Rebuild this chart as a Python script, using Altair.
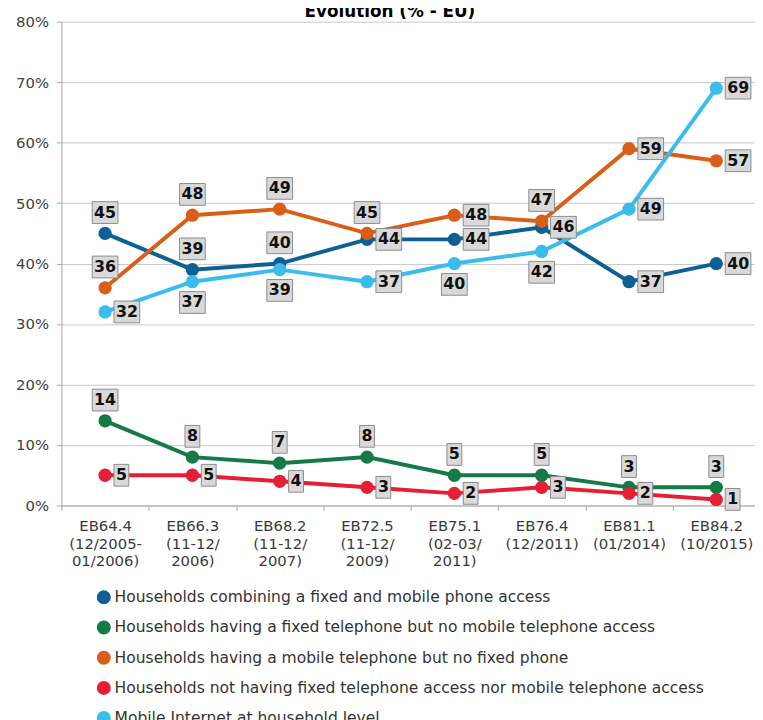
import altair as alt
import pandas as pd

TITLE = "Evolution (% - EU)"

CATEGORIES = [
    "EB64.4|(12/2005-|01/2006)",
    "EB66.3|(11-12/|2006)",
    "EB68.2|(11-12/|2007)",
    "EB72.5|(11-12/|2009)",
    "EB75.1|(02-03/|2011)",
    "EB76.4|(12/2011)",
    "EB81.1|(01/2014)",
    "EB84.2|(10/2015)",
]

SERIES = [
    "Households combining a fixed and mobile phone access",
    "Households having a fixed telephone but no mobile telephone access",
    "Households having a mobile telephone but no fixed phone",
    "Households not having fixed telephone access nor mobile telephone access",
    "Mobile Internet at household level",
]
COLORS = ["#0d6094", "#157a45", "#d95f18", "#e41f36", "#3bbcee"]

FIXED_AND_MOBILE = [45, 39, 40, 44, 44, 46, 37, 40]
FIXED_ONLY = [14, 8, 7, 8, 5, 5, 3, 3]
MOBILE_ONLY = [36, 48, 49, 45, 48, 47, 59, 57]
NO_PHONE = [5, 5, 4, 3, 2, 3, 2, 1]
MOBILE_INTERNET = [32, 37, 39, 37, 40, 42, 49, 69]
VALUES = [FIXED_AND_MOBILE, FIXED_ONLY, MOBILE_ONLY, NO_PHONE, MOBILE_INTERNET]

# where each data label sits relative to its point
SIDE_FIXED_AND_MOBILE = ["above", "above", "above", "right", "right", "right", "right", "right"]
SIDE_FIXED_ONLY = ["above"] * 8
SIDE_MOBILE_ONLY = ["above", "above", "above", "above", "right", "above", "right", "right"]
SIDE_NO_PHONE = ["right"] * 8
SIDE_MOBILE_INTERNET = ["right", "below", "below", "right", "below", "below", "right", "right"]
SIDES = [SIDE_FIXED_AND_MOBILE, SIDE_FIXED_ONLY, SIDE_MOBILE_ONLY, SIDE_NO_PHONE, SIDE_MOBILE_INTERNET]


def box_path(side, label):
    w = 15 if len(label) == 1 else 26
    h = 22
    if side == "above":
        x0, y0 = -w / 2, -32
    elif side == "below":
        x0, y0 = -w / 2, 10
    else:
        x0, y0 = 9, -11
    return f"M{x0},{y0}H{x0 + w}V{y0 + h}H{x0}Z"


rows = []
for k, (s, vals, sides) in enumerate(zip(SERIES, VALUES, SIDES)):
    for c, v, sd in zip(CATEGORIES, vals, sides):
        lab = str(v)
        rows.append({"series": s, "idx": f"s{k}", "cat": c, "value": v, "side": sd,
                     "label": lab, "box": box_path(sd, lab)})
df = pd.DataFrame(rows)
IDX = [f"s{k}" for k in range(len(SERIES))]

FONT = "DejaVu Sans"

x_enc = alt.X(
    "cat:N",
    sort=CATEGORIES,
    bandPosition=0.5,
    scale=alt.Scale(type="band", range=[0, 706], paddingInner=0, paddingOuter=0),
    axis=alt.Axis(
        title=None, labelAngle=0, tickBand="extent", labelExpr="split(datum.label, '|')",
        labelFont=FONT, labelFontSize=15, labelColor="#3a3a3a", labelLineHeight=18,
        labelPadding=8, tickSize=5, tickColor="#a6a6a6", domainColor="#a6a6a6",
        grid=False, labelBaseline="top",
    ),
)
y_enc = alt.Y(
    "value:Q",
    scale=alt.Scale(domain=[0, 80], nice=False),
    axis=alt.Axis(
        title=None, values=list(range(0, 81, 10)), labelExpr="datum.value + '%'",
        labelFont=FONT, labelFontSize=15, labelColor="#404040", labelPadding=8,
        tickSize=5, tickColor="#a6a6a6", domainColor="#a6a6a6",
        grid=True, gridColor="#c8c8c8", gridWidth=1,
    ),
)

base = alt.Chart(df)

lines = base.mark_line(strokeWidth=4).encode(
    x=x_enc, y=y_enc,
    stroke=alt.Stroke("idx:N", scale=alt.Scale(domain=IDX, range=COLORS), legend=None),
    detail="idx:N",
)

points = base.mark_circle(size=180, opacity=1).encode(
    x=x_enc, y=y_enc,
    color=alt.Color(
        "series:N", scale=alt.Scale(domain=SERIES, range=COLORS),
        legend=alt.Legend(
            title=None, orient="none", legendX=35, legendY=574,
            symbolType="circle", symbolSize=200, symbolStrokeWidth=0, symbolOpacity=1,
            labelFont=FONT, labelFontSize=15.7, labelColor="#333333", labelLimit=800,
            rowPadding=13.5, labelOffset=3, padding=0, direction="vertical",
        ),
    ),
)

boxes = base.mark_point(filled=True, size=4, fill="#d9d9d9", stroke="#8c8c8c",
                        strokeWidth=1, opacity=1).encode(
    x=x_enc, y=y_enc,
    shape=alt.Shape("box:N", scale=None, legend=None),
)

text_props = dict(font=FONT, fontWeight="bold", fontSize=16, color="#111111", baseline="middle")
t_above = base.transform_filter("datum.side == 'above'").mark_text(
    align="center", dy=-21, **text_props).encode(x=x_enc, y=y_enc, text="label:N")
t_below = base.transform_filter("datum.side == 'below'").mark_text(
    align="center", dy=21, **text_props).encode(x=x_enc, y=y_enc, text="label:N")
t_right = base.transform_filter("datum.side == 'right'").mark_text(
    align="left", dx=11, **text_props).encode(x=x_enc, y=y_enc, text="label:N")

title = alt.Chart(pd.DataFrame({"t": [TITLE]})).mark_text(
    font=FONT, fontWeight="bold", fontSize=17, color="#000000",
    align="center", baseline="alphabetic",
).encode(x=alt.value(332), y=alt.value(-5), text="t:N")

chart = alt.layer(lines, points, boxes, t_above, t_below, t_right, title).properties(
    width=701, height=489,
    autosize=alt.AutoSizeParams(type="none"),
    padding={"left": 54, "top": 10, "right": 0, "bottom": 213},
).configure_view(stroke=None)

chart.save("out.html", embed_options={"renderer": "svg", "actions": False})
